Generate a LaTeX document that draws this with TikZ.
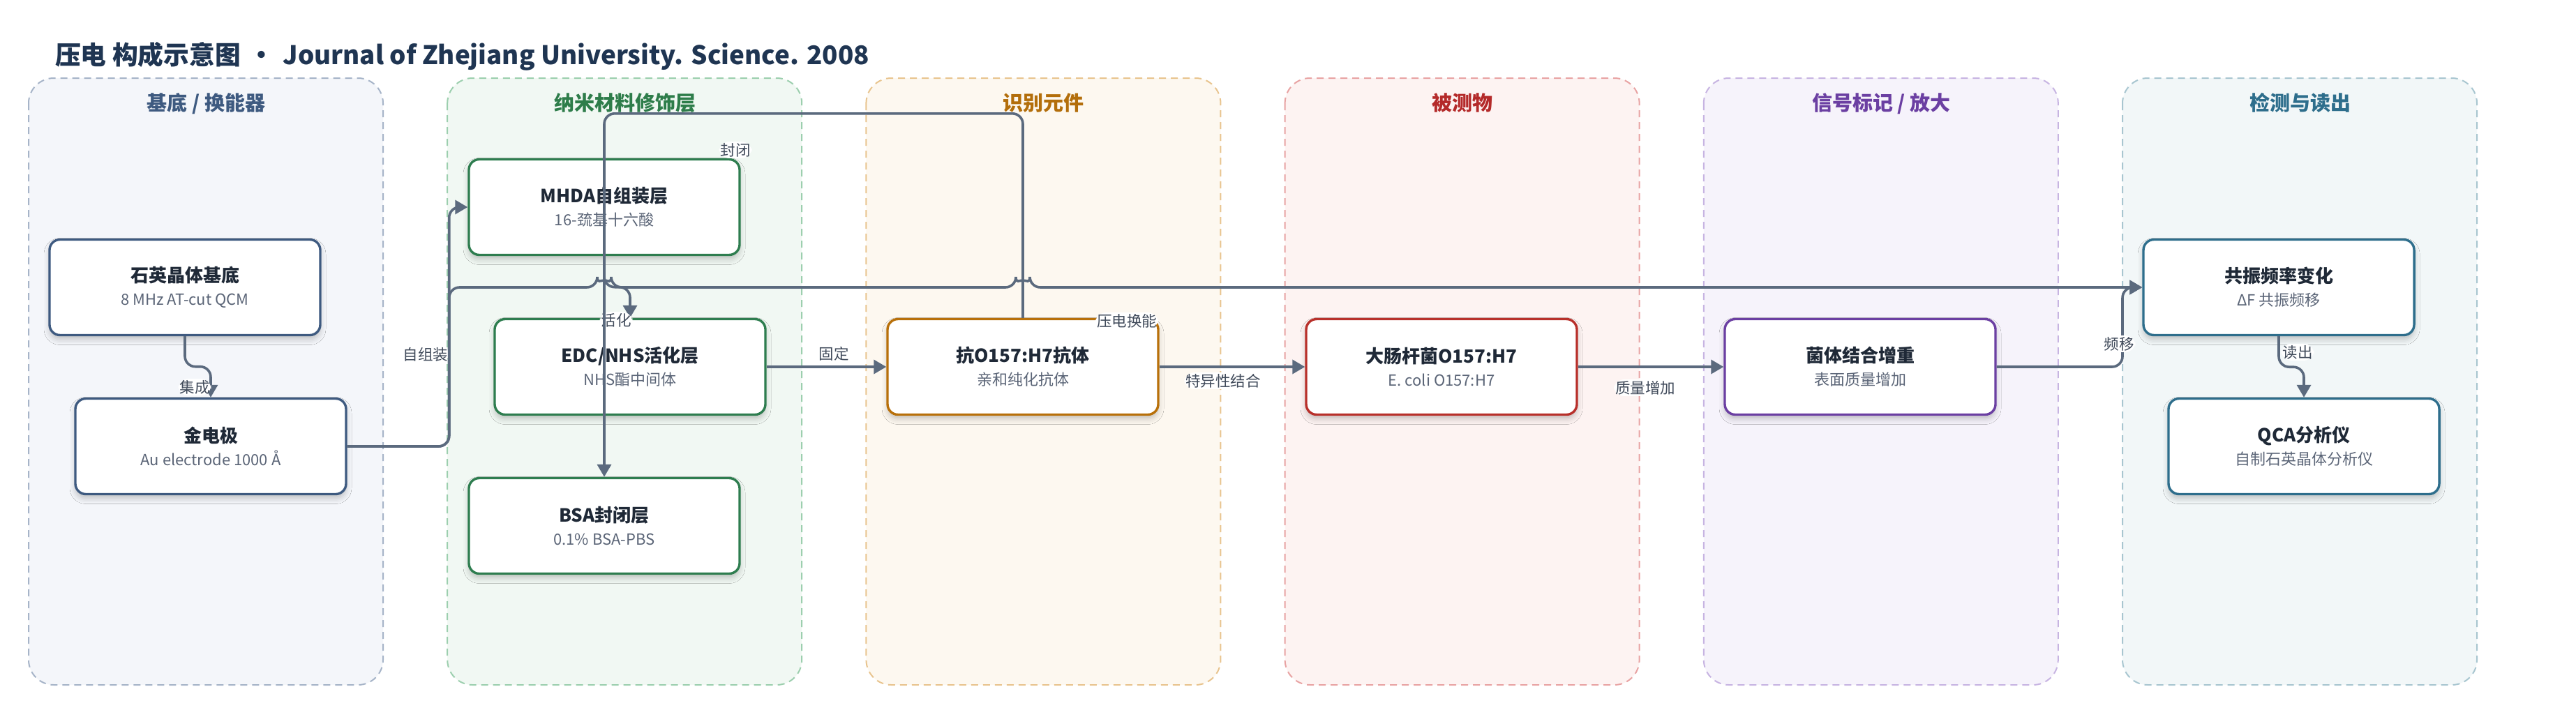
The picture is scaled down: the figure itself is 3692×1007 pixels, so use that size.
\documentclass[tikz,border=0pt]{standalone}
\usepackage{fontspec}
\setmainfont{Noto Sans CJK SC}
\usepackage{tikz}
\usetikzlibrary{arrows.meta}
\usetikzlibrary{shadows.blur}
\usepackage{xcolor}

\definecolor{titlec}{HTML}{1F3552}
\definecolor{ink}{HTML}{1F2937}
\definecolor{subgray}{HTML}{5B6577}
\definecolor{lblgray}{HTML}{404A5A}
\definecolor{wire}{HTML}{5B6A7E}
% lane fill / lane border / header / node border
\definecolor{lf0}{HTML}{F4F6FA} \definecolor{lb0}{HTML}{A6B4C8} \definecolor{lh0}{HTML}{3E5A80} \definecolor{nb0}{HTML}{3E5A80}
\definecolor{lf1}{HTML}{F1F8F3} \definecolor{lb1}{HTML}{9CCFAE} \definecolor{lh1}{HTML}{2E7D4A} \definecolor{nb1}{HTML}{2E7D4F}
\definecolor{lf2}{HTML}{FDF8F0} \definecolor{lb2}{HTML}{E8C48E} \definecolor{lh2}{HTML}{B36E0B} \definecolor{nb2}{HTML}{B8700A}
\definecolor{lf3}{HTML}{FDF3F2} \definecolor{lb3}{HTML}{E8A3A3} \definecolor{lh3}{HTML}{B42A2A} \definecolor{nb3}{HTML}{B8302B}
\definecolor{lf4}{HTML}{F6F3FB} \definecolor{lb4}{HTML}{C7B4E2} \definecolor{lh4}{HTML}{6B3FA2} \definecolor{nb4}{HTML}{6B3FA2}
\definecolor{lf5}{HTML}{F2F7F8} \definecolor{lb5}{HTML}{A8C6D0} \definecolor{lh5}{HTML}{2E6E8C} \definecolor{nb5}{HTML}{2E6E8C}

\begin{document}
\begin{tikzpicture}[x=0.5pt,y=-0.5pt,
  lane/.style={line width=1pt, dash pattern=on 5pt off 3.5pt, rounded corners=18pt},
  head/.style={font=\fontsize{14.5}{17}\selectfont\bfseries, anchor=base},
  box/.style={draw=#1, line width=1.7pt, fill=white, rounded corners=7.5pt,
    minimum width=194pt, minimum height=68.5pt, align=center, text=ink,
    font=\fontsize{11}{16.5}\selectfont,
    blur shadow={shadow xshift=0pt, shadow yshift=-3pt, shadow blur radius=4pt, shadow opacity=22}},
  conn/.style={draw=wire, line width=1.8pt, rounded corners=7.5pt, -{Triangle[width=10pt,length=9pt]}},
  lbl/.style={fill=white, inner sep=1pt, text=lblgray, font=\fontsize{10.75}{12}\selectfont}]
  \useasboundingbox (0,0) rectangle (3692,1007);
  \fill[white] (0,0) rectangle (3692,1007);

  \node[anchor=base west, text=titlec, font=\fontsize{18.4}{22}\selectfont\bfseries] (title) at (72,92)
    {压电 构成示意图\hspace{0.32em}•\hspace{0.32em}Journal of Zhejiang University. Science. 2008};

  % lanes
  \foreach \i/\txt in {0/{基底 / 换能器}, 1/纳米材料修饰层, 2/识别元件, 3/被测物, 4/{信号标记 / 放大}, 5/检测与读出} {
    \draw[lane, fill=lf\i, draw=lb\i] (41+600.2*\i,112) rectangle ++(508,870);
    \node[head, text=lh\i] (head\i) at (295.5+600.2*\i,158) {\txt};
  }

  % nodes
  \node[box=nb0] (quartz) at (265,412) {{\bfseries\fontsize{13}{16.5}\selectfont 石英晶体基底}\\{\color{subgray}8 MHz AT-cut QCM}};
  \node[box=nb0] (gold) at (302,640) {{\bfseries\fontsize{13}{16.5}\selectfont 金电极}\\{\color{subgray}Au electrode 1000 Å}};
  \node[box=nb1] (mhda) at (866,297) {{\bfseries\fontsize{13}{16.5}\selectfont MHDA自组装层}\\{\color{subgray}16-巯基十六酸}};
  \node[box=nb1] (edc) at (903,526) {{\bfseries\fontsize{13}{16.5}\selectfont EDC/NHS活化层}\\{\color{subgray}NHS酯中间体}};
  \node[box=nb1] (bsa) at (866,754) {{\bfseries\fontsize{13}{16.5}\selectfont BSA封闭层}\\{\color{subgray}0.1\% BSA-PBS}};
  \node[box=nb2] (ab) at (1466,526) {{\bfseries\fontsize{13}{16.5}\selectfont 抗O157:H7抗体}\\{\color{subgray}亲和纯化抗体}};
  \node[box=nb3] (ecoli) at (2066,526) {{\bfseries\fontsize{13}{16.5}\selectfont 大肠杆菌O157:H7}\\{\color{subgray}E. coli O157:H7}};
  \node[box=nb4] (mass) at (2666,526) {{\bfseries\fontsize{13}{16.5}\selectfont 菌体结合增重}\\{\color{subgray}表面质量增加}};
  \node[box=nb5] (freq) at (3266,412) {{\bfseries\fontsize{13}{16.5}\selectfont 共振频率变化}\\{\color{subgray}ΔF 共振频移}};
  \node[box=nb5] (qca) at (3302,640) {{\bfseries\fontsize{13}{16.5}\selectfont QCA分析仪}\\{\color{subgray}自制石英晶体分析仪}};

  % connectors
  \draw[conn] (quartz.south) -- ++(0,43.5) -| (gold.north) node[lbl] (l-jicheng) at (279,555) {集成};
  \draw[conn] (gold.east) -- ++(146,0) |- (mhda.west) node[lbl] (l-zizu) at (610,508) {自组装};
  \draw[conn] (mhda.south) -- ++(0,44.5) -| (edc.north) node[lbl] (l-huohua) at (883,459) {活化};
  \draw[conn] (ab.north) -- ++(0,-293) -| (bsa.north) node[lbl] (l-fengbi) at (1054,215) {封闭};
  \draw[conn] (edc.east) -- (ab.west) node[lbl] (l-guding) at (1195,507) {固定};
  \draw[conn] (ab.east) -- (ecoli.west) node[lbl] (l-teyi) at (1753,546) {特异性结合};
  \draw[conn] (ecoli.east) -- (mass.west) node[lbl] (l-zhiliang) at (2358,556) {质量增加};
  \draw[conn] (gold.east) -- ++(146,0) |- (856,412) arc[start angle=180, end angle=360, radius=10]
    -- (1456,412) arc[start angle=180, end angle=360, radius=10] -- (freq.west)
    node[lbl] (l-yadian) at (1615,460) {压电换能};
  \draw[conn] (mass.east) -- (3042,526) |- (freq.west) node[lbl] (l-pinyi) at (3037,493) {频移};
  \draw[conn] (freq.south) -- ++(0,44) -| (qca.north) node[lbl] (l-duchu) at (3293,505) {读出};

\end{tikzpicture}
\end{document}
